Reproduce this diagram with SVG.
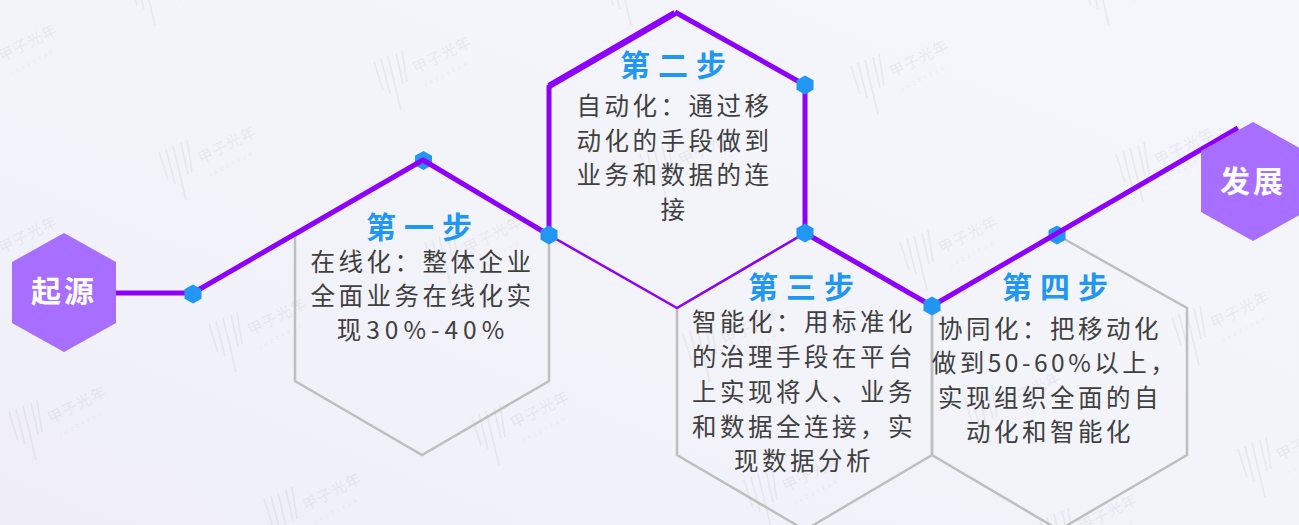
<svg xmlns="http://www.w3.org/2000/svg" width="1299" height="525" viewBox="0 0 1299 525">
<style>
text{font-family:"Noto Sans CJK SC","Noto Sans",sans-serif;text-anchor:middle}
.body{font-size:24.500px;letter-spacing:3.500px;fill:#404040}
.wide{letter-spacing:5px}
.title{font-size:30px;font-weight:700;letter-spacing:8px;fill:#2196f3}
.end{font-size:30px;font-weight:700;letter-spacing:3px;fill:#fff}
.gray{fill:none;stroke:#bfbfbf;stroke-width:2.5}
.dot{fill:#2196f3}
.big{fill:#a86eff}
.wire{fill:none;stroke:#8f00fa;stroke-width:5;stroke-linejoin:round}
.thick{stroke-width:6.500}
.thin{stroke-width:2.5}
.wm{opacity:.07}
.wm line{stroke:#555;stroke-width:1.6}
.wm text{fill:#555;text-anchor:start}
</style>
<defs>
<linearGradient id="bg" x1="0" y1="1" x2="1" y2="0">
<stop offset="0" stop-color="#efeef8"/><stop offset=".5" stop-color="#f3f4fa"/><stop offset="1" stop-color="#f4f6fc"/>
</linearGradient>
<g id="mark" class="wm">
<line x1="0" y1="2" x2="9" y2="30"/><line x1="7" y1="-1" x2="16" y2="34"/><line x1="14" y1="-4" x2="27" y2="50"/><line x1="22" y1="-7" x2="29" y2="24"/><line x1="28" y1="-10" x2="33" y2="22"/>
<text transform="translate(42,14) rotate(-27)" font-size="15" letter-spacing="1">甲子光年</text>
<text transform="translate(51,27) rotate(-27)" font-size="5" letter-spacing="3.5">JAZZYEAR</text>
</g>
<polygon id="hexdot" points="0,-9.5 8.5,-4.7 8.5,4.7 0,9.5 -8.5,4.7 -8.5,-4.7"/>
</defs>
<rect id="background" width="1299" height="525" fill="url(#bg)"/>
<g id="watermarks">
<use href="#mark" x="374" y="60"/><use href="#mark" x="851" y="64"/><use href="#mark" x="159" y="150"/>
<use href="#mark" x="1116" y="152"/><use href="#mark" x="209" y="322"/><use href="#mark" x="425" y="240"/>
<use href="#mark" x="9" y="410"/><use href="#mark" x="472" y="415"/><use href="#mark" x="264" y="497"/>
<use href="#mark" x="744" y="478"/><use href="#mark" x="900" y="240"/><use href="#mark" x="964" y="395"/>
<use href="#mark" x="1172" y="315"/><use href="#mark" x="1238" y="447"/><use href="#mark" x="683" y="332"/>
<use href="#mark" x="640" y="152"/><use href="#mark" x="-40" y="240"/><use href="#mark" x="1040" y="518"/>
<use href="#mark" x="128" y="-25"/><use href="#mark" x="604" y="-25"/><use href="#mark" x="1082" y="-25"/><use href="#mark" x="-40" y="48"/>
</g>
<g id="step1">
<polygon class="gray" points="423,160 549,235 549,381 422,455 295,381 295,236"/>
<text class="title" x="423" y="238">第一步</text>
<text class="body" x="422.500" y="271">在线化&#xFF1A;整体企业</text>
<text class="body" x="422.500" y="305">全面业务在线化实</text>
<text class="body wide" x="423" y="339">现30%-40%</text>
</g>
<g id="step2">
<text class="title" x="677" y="76">第二步</text>
<text class="body" x="674.500" y="115">自动化&#xFF1A;通过移</text>
<text class="body" x="674.500" y="150">动化的手段做到</text>
<text class="body" x="674.500" y="184">业务和数据的连</text>
<text class="body" x="674.500" y="219">接</text>
</g>
<g id="step3">
<polygon class="gray" points="805,233 932,306 932,455 805,530 677,455 677,308"/>
<text class="title" x="805" y="298">第三步</text>
<text class="body" x="804" y="331">智能化&#xFF1A;用标准化</text>
<text class="body" x="804" y="366">的治理手段在平台</text>
<text class="body" x="804" y="401">上实现将人、业务</text>
<text class="body" x="804" y="436">和数据全连接&#xFF0C;实</text>
<text class="body" x="804" y="470">现数据分析</text>
</g>
<g id="step4">
<polygon class="gray" points="1057,235 1187,308 1187,455 1059,530 932,455 932,306"/>
<text class="title" x="1059" y="298">第四步</text>
<text class="body" x="1050" y="338">协同化&#xFF1A;把移动化</text>
<text class="body" x="1055" y="372">做到50-60%以上&#xFF0C;</text>
<text class="body" x="1050" y="407">实现组织全面的自</text>
<text class="body" x="1050" y="441">动化和智能化</text>
</g>
<g id="dot-top1" class="dot"><use href="#hexdot" x="423.500" y="160.500"/></g>
<g id="dot-top4" class="dot"><use href="#hexdot" x="1057" y="235"/></g>
<g id="connectors">
<polyline class="wire" points="116,293 193,293 423,160 549,235 549,85"/>
<polyline class="wire thick" points="549,86 675,13"/>
<polyline class="wire" points="675,12 805,85 805,233 932,306 1238,128"/>
<polyline class="wire thin" points="549,235 677,308 805,233"/>
</g>
<g id="dot-a" class="dot"><use href="#hexdot" x="193" y="294"/></g>
<g id="dot-b" class="dot"><use href="#hexdot" x="549" y="235"/></g>
<g id="dot-c" class="dot"><use href="#hexdot" x="805" y="85"/></g>
<g id="dot-d" class="dot"><use href="#hexdot" x="805" y="233"/></g>
<g id="dot-e" class="dot"><use href="#hexdot" x="932" y="306"/></g>
<g id="origin">
<polygon class="big" points="64,233 116,262 116,323 64,352 12,323 12,262"/>
<text class="end" x="64" y="302">起源</text>
</g>
<g id="growth">
<polygon class="big" points="1253,122 1305,151 1305,212 1253,241 1201,212 1201,151"/>
<text class="end" x="1253" y="192">发展</text>
</g>
</svg>
